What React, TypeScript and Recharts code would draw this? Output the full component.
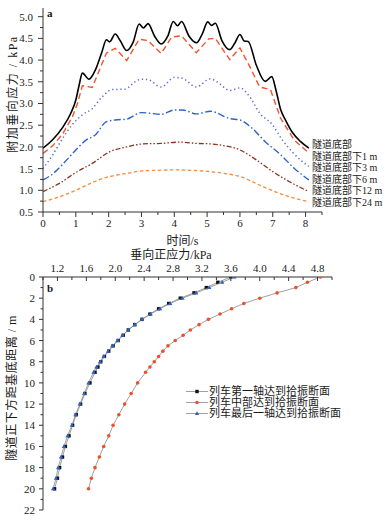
import { LineChart, Line, XAxis, YAxis, ScatterChart, Scatter, Legend } from "recharts";

const serif = '"Liberation Serif", "Noto Sans CJK SC", serif';
const ink = "#1a1a1a";
const axisColor = "#333";

// ---- (a) additional vertical stress vs time ----
const timeTicks = [0, 0.5, 1, 1.5, 2, 2.5, 3, 3.5, 4, 4.5, 5, 5.5, 6, 6.5, 7, 7.5, 8, 8.5];
const stressTicks = [0.5, 0.75, 1, 1.25, 1.5, 1.75, 2, 2.25, 2.5, 2.75, 3, 3.25, 3.5, 3.75, 4, 4.25, 4.5, 4.75, 5];

const tBottom = [0, 0.3, 0.6, 0.85, 1.0, 1.1, 1.2, 1.4, 1.6, 1.8, 1.93, 2.03, 2.2, 2.35, 2.55, 2.75, 2.93, 3.06, 3.2, 3.4, 3.6, 3.8, 3.97, 4.1, 4.22, 4.45, 4.68, 4.85, 5.02, 5.13, 5.25, 5.45, 5.69, 5.85, 6.0, 6.13, 6.25, 6.5, 6.77, 6.97, 7.1, 7.24, 7.4, 7.6, 7.85, 8.1];
const vBottom = [1.97, 2.17, 2.45, 2.78, 3.08, 3.42, 3.7, 3.56, 3.78, 4.2, 4.47, 4.42, 4.6, 4.45, 4.22, 4.42, 4.83, 4.74, 4.84, 4.55, 4.37, 4.55, 4.89, 4.79, 4.89, 4.55, 4.4, 4.6, 4.88, 4.8, 4.85, 4.45, 4.24, 4.4, 4.59, 4.44, 4.43, 3.88, 3.51, 3.62, 3.3, 2.86, 2.6, 2.33, 2.12, 1.97];

const t1m = [0, 0.3, 0.6, 0.9, 1.05, 1.2, 1.5, 1.93, 2.2, 2.55, 2.93, 3.2, 3.6, 3.92, 4.22, 4.67, 5.05, 5.25, 5.69, 6.0, 6.3, 6.6, 6.93, 7.24, 7.65, 8.1];
const v1m = [1.85, 2.03, 2.3, 2.7, 3.0, 3.41, 3.37, 4.16, 4.27, 3.99, 4.48, 4.45, 4.15, 4.53, 4.56, 4.17, 4.49, 4.5, 4.01, 4.28, 3.85, 3.38, 3.32, 2.66, 2.16, 1.86];

const t3m = [0, 0.3, 0.6, 0.9, 1.2, 1.5, 1.8, 2.1, 2.5, 2.8, 3.0, 3.2, 3.6, 4.0, 4.25, 4.67, 5.1, 5.3, 5.7, 6.0, 6.3, 6.6, 6.98, 7.3, 7.6, 7.9, 8.1];
const v3m = [1.5, 1.82, 2.2, 2.52, 2.74, 2.88, 3.15, 3.32, 3.33, 3.5, 3.56, 3.55, 3.38, 3.6, 3.58, 3.38, 3.57, 3.5, 3.3, 3.36, 3.15, 2.78, 2.52, 2.15, 1.88, 1.66, 1.55];

const t6m = [0, 0.3, 0.6, 1.0, 1.3, 1.6, 1.93, 2.2, 2.55, 3.0, 3.2, 3.6, 4.0, 4.25, 4.67, 5.1, 5.7, 6.0, 6.37, 6.77, 7.24, 7.65, 8.1];
const v6m = [1.24, 1.38, 1.6, 1.93, 2.15, 2.28, 2.58, 2.62, 2.64, 2.79, 2.78, 2.75, 2.85, 2.85, 2.76, 2.82, 2.65, 2.62, 2.43, 2.12, 1.82, 1.51, 1.24];

const t12m = [0, 0.5, 1.0, 1.5, 2.04, 2.55, 3.05, 3.6, 4.17, 4.7, 5.1, 5.5, 6.0, 6.5, 7.0, 7.55, 8.1];
const v12m = [0.97, 1.16, 1.41, 1.62, 1.89, 2.0, 2.07, 2.08, 2.11, 2.08, 2.07, 2.03, 1.93, 1.7, 1.43, 1.18, 0.97];

const t24m = [0, 0.5, 1.0, 1.5, 2.04, 2.55, 3.05, 3.5, 3.97, 4.5, 5.1, 5.6, 6.0, 6.6, 7.24, 7.7, 8.1];
const v24m = [0.74, 0.85, 1.0, 1.18, 1.32, 1.39, 1.45, 1.46, 1.47, 1.46, 1.43, 1.38, 1.32, 1.12, 0.92, 0.81, 0.74];

const levelNames = ["隧道底部", "隧道底部下1 m", "隧道底部下3 m", "隧道底部下6 m", "隧道底部下12 m", "隧道底部下24 m"];

// ---- (b) vertical normal stress vs depth ----
const forceTicks = [1, 1.2, 1.4, 1.6, 1.8, 2, 2.2, 2.4, 2.6, 2.8, 3, 3.2, 3.4, 3.6, 3.8, 4, 4.2, 4.4, 4.6, 4.8, 5];
const depthTicks = [0, 1, 2, 3, 4, 5, 6, 7, 8, 9, 10, 11, 12, 13, 14, 15, 16, 17, 18, 19, 20, 21, 22];

const depths = [0, 0.5, 1, 1.5, 2, 2.5, 3, 3.5, 4, 4.5, 5, 5.5, 6, 6.5, 7, 7.5, 8, 8.5, 9, 10, 11, 12, 13, 14, 15, 16, 17, 18, 19, 20];
const firstAxle = [3.6, 3.42, 3.26, 3.09, 2.9, 2.74, 2.6, 2.48, 2.37, 2.27, 2.18, 2.11, 2.04, 1.97, 1.91, 1.85, 1.8, 1.76, 1.72, 1.65, 1.58, 1.52, 1.46, 1.41, 1.36, 1.31, 1.27, 1.23, 1.2, 1.16];
const midTrain = [4.84, 4.66, 4.5, 4.24, 4.0, 3.78, 3.61, 3.45, 3.29, 3.16, 3.04, 2.94, 2.83, 2.73, 2.66, 2.6, 2.54, 2.48, 2.42, 2.31, 2.22, 2.13, 2.05, 1.97, 1.91, 1.84, 1.78, 1.72, 1.67, 1.63];
const lastAxle = [3.65, 3.48, 3.3, 3.12, 2.93, 2.76, 2.62, 2.49, 2.37, 2.27, 2.18, 2.1, 2.03, 1.96, 1.9, 1.84, 1.79, 1.74, 1.7, 1.63, 1.57, 1.51, 1.45, 1.4, 1.34, 1.29, 1.25, 1.21, 1.18, 1.14];

const caseNames = ["列车第一轴达到拾振断面", "列车中部达到拾振断面", "列车最后一轴达到拾振断面"];

const toPoints = (ts: number[], vs: number[]) => ts.map((t, i) => ({ t, v: vs[i] }));
const toProfile = (vs: number[]) => depths.map((d, i) => ({ d, v: vs[i] }));

const levels = [
  { data: toPoints(tBottom, vBottom), color: "#000000", dash: undefined, width: 1.6, curve: "monotone" },
  { data: toPoints(t1m, v1m), color: "#f2522c", dash: "6 3.5", width: 1.4, curve: "linear" },
  { data: toPoints(t3m, v3m), color: "#5a6ad4", dash: "1.3 2.8", width: 1.5, curve: "monotone" },
  { data: toPoints(t6m, v6m), color: "#2c64c9", dash: "7 2.5 1.5 2.5", width: 1.4, curve: "monotone" },
  { data: toPoints(t12m, v12m), color: "#8e2f1f", dash: "5 2 1.5 2 1.5 2", width: 1.3, curve: "monotone" },
  { data: toPoints(t24m, v24m), color: "#f68b3c", dash: "3.5 2.5", width: 1.3, curve: "monotone" },
];

const Square = ({ cx, cy }: any) => <rect x={cx - 1.7} y={cy - 1.7} width={3.4} height={3.4} fill="#111" />;
const Dot = ({ cx, cy }: any) => <circle cx={cx} cy={cy} r={1.8} fill="#f04e2b" />;
const Tri = ({ cx, cy }: any) => (
  <polygon points={`${cx},${cy - 2.3} ${cx - 2.2},${cy + 1.5} ${cx + 2.2},${cy + 1.5}`} fill="#2f62c8" />
);

const cases = [
  { data: toProfile(firstAxle), Marker: Square },
  { data: toProfile(midTrain), Marker: Dot },
  { data: toProfile(lastAxle), Marker: Tri },
];

const TimeTick = ({ x, y, payload }: any) => {
  const major = Number.isInteger(payload.value);
  return (
    <g>
      <line x1={x} x2={x} y1={y} y2={y + (major ? 5 : 3)} stroke={axisColor} />
      {major && (
        <text x={x} y={y + 15} textAnchor="middle" fontSize={11} fontFamily={serif} fill={ink}>
          {payload.value}
        </text>
      )}
    </g>
  );
};

const StressTick = ({ x, y, payload }: any) => {
  const major = Math.round(payload.value * 100) % 50 === 0;
  return (
    <g>
      <line x1={x} x2={x - (major ? 5 : 3)} y1={y} y2={y} stroke={axisColor} />
      {major && (
        <text x={x - 10} y={y + 4} textAnchor="end" fontSize={11} fontFamily={serif} fill={ink}>
          {payload.value.toFixed(1)}
        </text>
      )}
    </g>
  );
};

const ForceTick = ({ x, y, payload }: any) => {
  const major = Math.round(payload.value * 10) % 4 === 0;
  return (
    <g>
      <line x1={x} x2={x} y1={y} y2={y + (major ? 4 : 3)} stroke={axisColor} />
      {major && (
        <text x={x} y={y - 5} textAnchor="middle" fontSize={11} fontFamily={serif} fill={ink}>
          {payload.value.toFixed(1)}
        </text>
      )}
    </g>
  );
};

const DepthTick = ({ x, y, payload }: any) => {
  const major = payload.value % 2 === 0;
  return (
    <g>
      <line x1={x} x2={x - (major ? 4 : 2.5)} y1={y} y2={y} stroke={axisColor} />
      {major && (
        <text x={x - 8} y={y + 4} textAnchor="end" fontSize={11} fontFamily={serif} fill={ink}>
          {payload.value}
        </text>
      )}
    </g>
  );
};

const titleStyle = { fontSize: 12, fontFamily: serif, fill: ink };

const LevelLegend = () => (
  <div style={{ fontFamily: serif, fontSize: 10, color: ink }}>
    {levelNames.map((name) => (
      <div key={name} style={{ height: 11.6, lineHeight: "11.6px", whiteSpace: "nowrap" }}>
        {name}
      </div>
    ))}
  </div>
);

const CaseLegend = () => (
  <div style={{ fontFamily: serif, fontSize: 11, color: ink }}>
    {caseNames.map((name, i) => {
      const M = cases[i].Marker;
      return (
        <div key={name} style={{ height: 11, lineHeight: "11px", display: "flex", alignItems: "center", whiteSpace: "nowrap" }}>
          <svg width={23} height={11}>
            <line x1={0} x2={22} y1={5.5} y2={5.5} stroke="#888" strokeWidth={0.8} />
            <M cx={11} cy={5.5} />
          </svg>
          <span>{name}</span>
        </div>
      );
    })}
  </div>
);

export default function App() {
  return (
    <div style={{ position: "absolute", left: 0, top: 0, width: 391, height: 521, background: "#fff" }}>
      <div style={{ position: "absolute", left: 0, top: 0 }}>
        <LineChart width={391} height={250} margin={{ top: 8, right: 69, bottom: 0, left: 0 }}>
          <XAxis
            dataKey="t"
            type="number"
            domain={[0, 8.5]}
            ticks={timeTicks}
            interval={0}
            height={38}
            stroke={axisColor}
            tickLine={false}
            tickSize={0}
            tickMargin={0}
            tick={(p: any) => <TimeTick {...p} />}
            allowDataOverflow
            label={{
              content: ({ viewBox }: any) => (
                <text x={viewBox.x + viewBox.width / 2} y={viewBox.y + 33} textAnchor="middle" {...titleStyle}>
                  时间/s
                </text>
              ),
            }}
          />
          <YAxis
            dataKey="v"
            type="number"
            domain={[0.5, 5.2]}
            ticks={stressTicks}
            interval={0}
            width={43}
            stroke={axisColor}
            tickLine={false}
            tickSize={0}
            tickMargin={0}
            tick={(p: any) => <StressTick {...p} />}
            allowDataOverflow
            label={{
              content: ({ viewBox }: any) => {
                const cx = 12.5;
                const cy = viewBox.y + viewBox.height / 2 - 16;
                return (
                  <text x={cx} y={cy} textAnchor="middle" dominantBaseline="central" transform={`rotate(-90 ${cx} ${cy})`} letterSpacing={1.5} {...titleStyle}>
                    附加垂向应力 / kPa
                  </text>
                );
              },
            }}
          />
          <Legend
            layout="vertical"
            align="center"
            verticalAlign="middle"
            wrapperStyle={{ left: 312, top: 139, width: 79 }}
            content={() => <LevelLegend />}
          />
          {levels.map((s, i) => (
            <Line
              key={levelNames[i]}
              data={s.data}
              dataKey="v"
              name={levelNames[i]}
              type={s.curve as any}
              stroke={s.color}
              strokeWidth={s.width}
              strokeDasharray={s.dash}
              dot={false}
              activeDot={false}
              isAnimationActive={false}
            />
          ))}
          <text x={47} y={17} fontSize={11} fontWeight="bold" fontFamily={serif} fill={ink}>
            a
          </text>
        </LineChart>
      </div>
      <div style={{ position: "absolute", left: 0, top: 245 }}>
        <ScatterChart width={391} height={276} margin={{ top: 0, right: 59, bottom: 11, left: 0 }}>
          <XAxis
            dataKey="v"
            type="number"
            orientation="top"
            domain={[1, 5]}
            ticks={forceTicks}
            interval={0}
            height={32}
            stroke={axisColor}
            tickLine={false}
            tickSize={0}
            tickMargin={0}
            tick={(p: any) => <ForceTick {...p} />}
            allowDataOverflow
            label={{
              content: ({ viewBox }: any) => (
                <text x={viewBox.x + viewBox.width / 2 - 16.5} y={viewBox.y + 13.5} textAnchor="middle" {...titleStyle}>
                  垂向正应力/kPa
                </text>
              ),
            }}
          />
          <YAxis
            dataKey="d"
            type="number"
            reversed
            domain={[0, 22]}
            ticks={depthTicks}
            interval={0}
            width={43}
            stroke={axisColor}
            tickLine={false}
            tickSize={0}
            tickMargin={0}
            tick={(p: any) => <DepthTick {...p} />}
            allowDataOverflow
            label={{
              content: ({ viewBox }: any) => {
                const cx = 12;
                const cy = viewBox.y + viewBox.height / 2 - 5.5;
                return (
                  <text x={cx} y={cy} textAnchor="middle" dominantBaseline="central" transform={`rotate(-90 ${cx} ${cy})`} letterSpacing={0.5} {...titleStyle}>
                    隧道正下方距基底距离 / m
                  </text>
                );
              },
            }}
          />
          <Legend
            layout="vertical"
            align="center"
            verticalAlign="middle"
            wrapperStyle={{ left: 186, top: 141, width: 190 }}
            content={() => <CaseLegend />}
          />
          {cases.map((c, i) => (
            <Scatter
              key={caseNames[i]}
              name={caseNames[i]}
              data={c.data}
              line={{ stroke: "#888", strokeWidth: 0.8 }}
              lineType="joint"
              shape={(p: any) => <c.Marker {...p} />}
              isAnimationActive={false}
            />
          ))}
          <text x={47} y={47} fontSize={11} fontWeight="bold" fontFamily={serif} fill={ink}>
            b
          </text>
        </ScatterChart>
      </div>
    </div>
  );
}
